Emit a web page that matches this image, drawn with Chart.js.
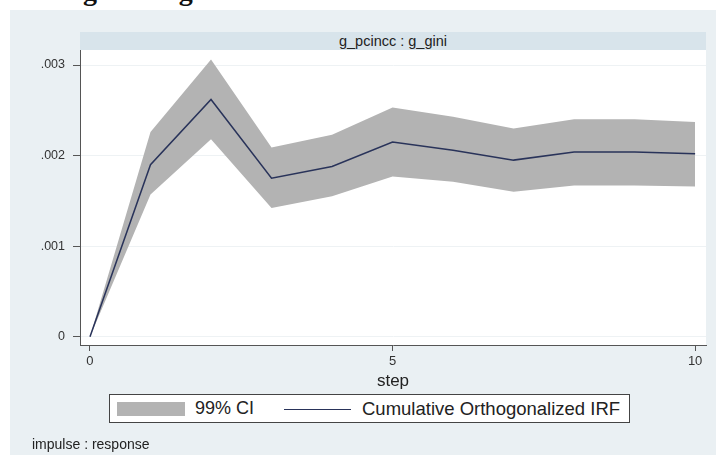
<!DOCTYPE html>
<html>
<head>
<meta charset="utf-8">
<script src="https://cdn.jsdelivr.net/npm/chart.js@4"></script>
<style>
  body { margin: 0; width: 716px; height: 455px; position: relative; overflow: hidden; background: #fff; font-family: "Liberation Sans", Arial, sans-serif; }
  .abs { position: absolute; }
  #panel { left: 10px; top: 10px; width: 706px; height: 445px; background: #eaf0f3; }
  #heading { left: 0; top: 0; width: 716px; height: 9px; overflow: hidden; }
  #heading span { position: absolute; left: 54px; top: -25px; font: bold 28px "Liberation Serif", serif; letter-spacing: 2px; color: #111; white-space: nowrap; }
  #strip { left: 80px; top: 32px; width: 626px; height: 18px; background: #d8e4eb; text-align: center; font-size: 14.5px; line-height: 18px; color: #222; }
  #plotbg { left: 80px; top: 50px; width: 626px; height: 295px; background: #fff; }
  #chartbox { left: 0; top: 0; width: 716px; height: 455px; }
  #legend { left: 109px; top: 394px; width: 519px; height: 27px; background: #fff; border: 1px solid #444; }
  #legend .swatch { position: absolute; left: 7px; top: 7px; width: 68px; height: 14px; background: #b3b3b3; }
  #legend .ci { position: absolute; left: 85px; top: 3px; font-size: 18px; color: #222; }
  #legend .ln { position: absolute; left: 174px; top: 14px; width: 67px; height: 0; border-top: 1.5px solid #29335a; }
  #legend .irf { position: absolute; left: 252px; top: 3px; font-size: 18.5px; color: #222; }
  #foot { left: 32px; top: 436px; font-size: 14px; color: #222; }
</style>
</head>
<body>
<div id="panel" class="abs"></div>
<div id="heading" class="abs"><span>Figure 4 g</span></div>
<div id="strip" class="abs">g_pcincc : g_gini</div>
<div id="plotbg" class="abs"></div>
<div id="chartbox" class="abs"><canvas id="irfChart" width="716" height="455"></canvas></div>
<div id="legend" class="abs">
  <div class="swatch"></div><span class="ci">99% CI</span>
  <div class="ln"></div><span class="irf">Cumulative Orthogonalized IRF</span>
</div>
<div id="foot" class="abs">impulse : response</div>

<script>
// values
const steps = [0, 1, 2, 3, 4, 5, 6, 7, 8, 9, 10];
const irf = [0, 0.00190, 0.00262, 0.00175, 0.00188, 0.00215, 0.00206, 0.00195, 0.00204, 0.00204, 0.00202];
const ciUpper = [0, 0.00226, 0.00306, 0.00209, 0.00223, 0.00253, 0.00243, 0.00230, 0.00240, 0.00240, 0.00237];
const ciLower = [0, 0.00157, 0.00218, 0.00142, 0.00155, 0.00177, 0.00171, 0.00160, 0.00167, 0.00167, 0.00166];
const xTicks = [0, 5, 10];
const yTicks = [0, 0.001, 0.002, 0.003];

const toPoints = arr => arr.map((v, i) => ({ x: steps[i], y: v }));

function yLabel(v) {
  if (v === 0) return "0";
  return v.toFixed(3).replace(/^0/, "");
}

const ctx = document.getElementById("irfChart");
new Chart(ctx, {
  type: "line",
  data: {
    datasets: [
      {
        label: "Cumulative Orthogonalized IRF",
        data: toPoints(irf),
        borderColor: "#29335a",
        borderWidth: 1.5,
        pointRadius: 0,
        fill: false,
        tension: 0
      },
      {
        label: "99% CI upper",
        data: toPoints(ciUpper),
        borderWidth: 0,
        borderColor: "rgba(0,0,0,0)",
        backgroundColor: "#b3b3b3",
        pointRadius: 0,
        fill: "+1",
        tension: 0
      },
      {
        label: "99% CI lower",
        data: toPoints(ciLower),
        borderWidth: 0,
        borderColor: "rgba(0,0,0,0)",
        pointRadius: 0,
        fill: false,
        tension: 0
      }
    ]
  },
  options: {
    responsive: false,
    animation: false,
    layout: { padding: { left: 0, top: 50, right: 10, bottom: 0 } },
    plugins: { legend: { display: false }, tooltip: { enabled: false } },
    scales: {
      x: {
        type: "linear",
        min: -0.165,
        max: 10.18,
        afterBuildTicks: s => { s.ticks = xTicks.map(v => ({ value: v })); },
        afterFit: s => { s.height = 110; },
        ticks: { color: "#333", font: { family: "Liberation Sans", size: 13 }, padding: 3, maxRotation: 0, callback: v => String(v) },
        grid: { drawOnChartArea: false, tickLength: 6, tickColor: "#555" },
        border: { display: true, color: "#555", width: 1 },
        title: { display: true, text: "step", color: "#222", font: { family: "Liberation Sans", size: 17 }, padding: { bottom: 63 } }
      },
      y: {
        min: -0.0000916,
        max: 0.003166,
        afterBuildTicks: s => { s.ticks = yTicks.map(v => ({ value: v })); },
        afterFit: s => { s.width = 80; },
        ticks: { color: "#333", font: { family: "Liberation Sans", size: 12.5 }, padding: 8, callback: v => yLabel(v) },
        grid: { color: "#eef2f4", tickLength: 7, tickColor: "#555" },
        border: { display: true, color: "#555", width: 1 }
      }
    }
  }
});
</script>
</body>
</html>
